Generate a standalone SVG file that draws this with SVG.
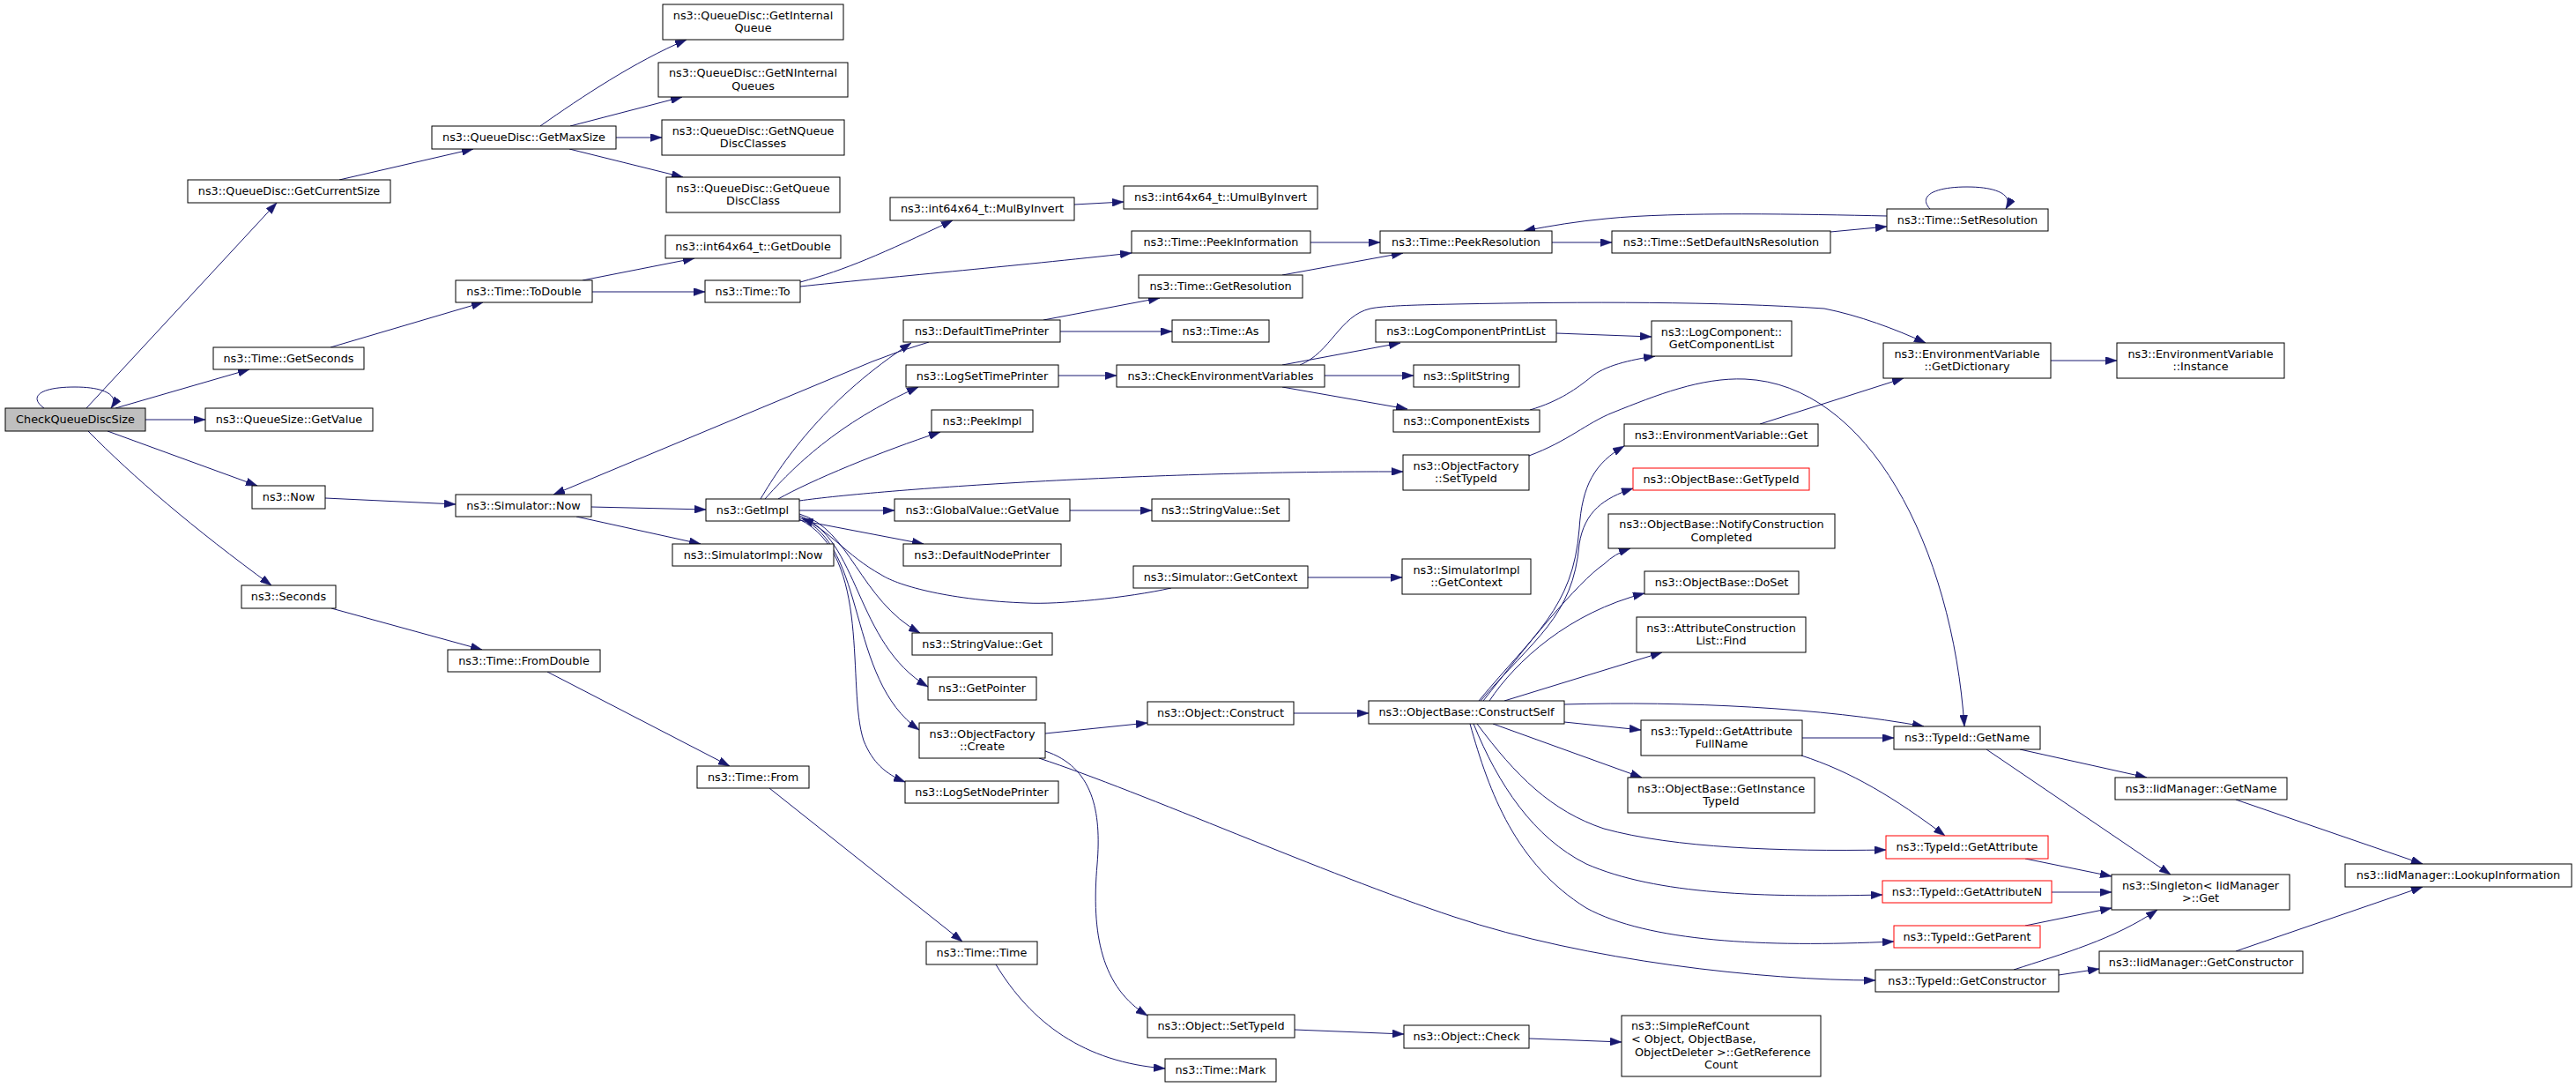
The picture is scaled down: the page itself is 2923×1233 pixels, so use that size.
<svg xmlns="http://www.w3.org/2000/svg" width="2923" height="1233" viewBox="0 0 2923 1233">
<style>
.n rect{fill:#ffffff;stroke:#000000;stroke-width:1}
.r rect{fill:#ffffff;stroke:#ff0000;stroke-width:1}
.root rect{fill:#bfbfbf;stroke:#000000;stroke-width:1}
text{font-family:"DejaVu Sans","Liberation Sans",sans-serif;font-size:12.8px;fill:#000;text-anchor:middle}
text.l{text-anchor:start}
#edges path{fill:none;stroke:#191970;stroke-width:1;marker-end:url(#a)}
</style>
<defs>
<marker id="a" viewBox="0 0 13 9" refX="13" refY="4.5" markerWidth="13" markerHeight="9" markerUnits="userSpaceOnUse" orient="auto"><path d="M0,0 L13,4.5 L0,9 z" fill="#191970" stroke="#191970" stroke-width="0.5"/></marker>
</defs>
<rect width="2923" height="1233" fill="#ffffff"/>
<g id="edges">
<path d="M50,463 C32,450 45,439 85,439 C120,439 136,449 126,463"/>
<path d="M98,463 L314,230"/>
<path d="M131,463 L283,419"/>
<path d="M165,476 L233,476"/>
<path d="M122,489 L292,551"/>
<path d="M100,489 C150,540 220,600 308,664"/>
<path d="M385,204 L537,169"/>
<path d="M613,143 C660,110 720,70 779,45"/>
<path d="M647,143 L774,110"/>
<path d="M699,156 L751,156"/>
<path d="M646,169 L775,201"/>
<path d="M375,394 L548,343"/>
<path d="M661,318 L788,293"/>
<path d="M672,331 L800,331"/>
<path d="M908,320 C960,306 1000,288 1081,250"/>
<path d="M908,325 C1000,315 1150,302 1284,287"/>
<path d="M1219,232 L1275,229"/>
<path d="M1487,275 L1566,275"/>
<path d="M1455,312 L1592,287"/>
<path d="M1761,275 L1829,275"/>
<path d="M2077,263 L2141,257"/>
<path d="M2141,245 C2050,243 1900,240 1823,248 C1790,251 1760,256 1729,262"/>
<path d="M2190,237 C2176,222 2195,212 2232,212 C2268,212 2285,222 2276,237"/>
<path d="M369,565 L517,572"/>
<path d="M671,575 L801,578"/>
<path d="M654,586 L795,617"/>
<path d="M376,690 L547,737"/>
<path d="M621,762 L828,869"/>
<path d="M873,894 L1092,1068"/>
<path d="M1130,1094 C1170,1160 1230,1205 1322,1212"/>
<path d="M1054,388 Q1020,398 990,410 L628,561"/>
<path d="M863,566 C890,520 940,450 1034,389"/>
<path d="M868,566 C900,530 950,480 1042,439"/>
<path d="M883,566 C920,545 1000,512 1067,490"/>
<path d="M907,568 C1000,555 1300,534 1592,535"/>
<path d="M907,579 L1015,579"/>
<path d="M1214,579 L1307,579"/>
<path d="M907,590 L1048,617"/>
<path d="M1329,667 C1280,678 1200,686 1165,684 C1080,681 1020,665 1000,652 C960,630 940,600 910,588"/>
<path d="M907,583 C965,600 975,680 1044,718"/>
<path d="M907,585 C975,610 970,730 1053,779"/>
<path d="M907,587 C985,620 960,770 1043,828"/>
<path d="M907,589 C990,630 960,780 980,840 C990,865 1005,878 1027,887"/>
<path d="M1184,363 L1316,338"/>
<path d="M1203,376 L1330,376"/>
<path d="M1201,426 L1267,426"/>
<path d="M1455,414 L1589,389"/>
<path d="M1475,414 C1510,400 1520,358 1555,350 C1570,347 1600,346 1650,345 C1800,342 1950,342 2070,350 C2110,358 2150,373 2185,389"/>
<path d="M1503,426 L1604,426"/>
<path d="M1455,439 L1597,464"/>
<path d="M1766,378 L1874,382"/>
<path d="M1736,465 C1770,455 1790,440 1805,428 C1820,415 1850,408 1878,404"/>
<path d="M2327,409 L2402,409"/>
<path d="M1997,481 L2160,429"/>
<path d="M1735,517 C1780,500 1800,480 1830,468 C1880,448 1930,428 1980,430 C2120,436 2215,620 2229,824"/>
<path d="M1484,655 L1591,655"/>
<path d="M1186,832 L1302,820"/>
<path d="M1186,852 C1240,870 1250,920 1245,980 C1238,1060 1250,1120 1302,1152"/>
<path d="M1179,860 C1300,900 1500,990 1650,1040 C1800,1090 2000,1112 2128,1112"/>
<path d="M1468,809 L1553,809"/>
<path d="M1678,795 C1740,720 1785,690 1792,600 C1795,550 1810,525 1843,506"/>
<path d="M1680,795 C1740,725 1785,700 1792,617 C1798,580 1820,565 1853,554"/>
<path d="M1683,795 C1730,735 1790,660 1820,640 Q1832,628 1850,622"/>
<path d="M1690,795 C1720,750 1780,695 1866,673"/>
<path d="M1707,795 L1886,740"/>
<path d="M1775,799 C1912,795 2069,803 2183,824"/>
<path d="M1775,819 L1862,828"/>
<path d="M1694,821 L1863,882"/>
<path d="M1676,821 C1720,880 1760,920 1820,940 C1900,962 2020,966 2140,964"/>
<path d="M1672,821 C1700,890 1740,950 1800,980 C1880,1015 2000,1018 2136,1015"/>
<path d="M1668,821 C1690,900 1720,980 1800,1030 C1870,1068 2000,1075 2149,1068"/>
<path d="M2045,837 L2149,837"/>
<path d="M2044,857 C2100,875 2150,905 2207,948"/>
<path d="M2292,850 L2436,882"/>
<path d="M2254,850 L2463,992"/>
<path d="M2537,907 L2749,980"/>
<path d="M2298,974 L2396,994"/>
<path d="M2328,1012 L2396,1012"/>
<path d="M2298,1050 L2396,1030"/>
<path d="M2285,1100 C2340,1082 2400,1065 2448,1032"/>
<path d="M2336,1106 L2382,1099"/>
<path d="M2537,1079 L2749,1006"/>
<path d="M1469,1168 L1593,1173"/>
<path d="M1735,1178 L1840,1182"/>
</g>
<g id="n1" class="root"><rect x="6" y="463" width="159" height="26"/><text x="85.5" y="480.3">CheckQueueDiscSize</text></g>
<g id="n2" class="n"><rect x="213" y="204" width="230" height="26"/><text x="328" y="221.3">ns3::QueueDisc::GetCurrentSize</text></g>
<g id="n3" class="n"><rect x="242" y="394" width="171" height="25"/><text x="327.5" y="410.8">ns3::Time::GetSeconds</text></g>
<g id="n4" class="n"><rect x="233" y="463" width="190" height="26"/><text x="328" y="480.3">ns3::QueueSize::GetValue</text></g>
<g id="n5" class="n"><rect x="286" y="551" width="83" height="26"/><text x="327.5" y="568.3">ns3::Now</text></g>
<g id="n6" class="n"><rect x="274" y="664" width="107" height="26"/><text x="327.5" y="681.3">ns3::Seconds</text></g>
<g id="n7" class="n"><rect x="490" y="143" width="209" height="26"/><text x="594.5" y="160.3">ns3::QueueDisc::GetMaxSize</text></g>
<g id="n8" class="n"><rect x="517" y="318" width="155" height="25"/><text x="594.5" y="334.8">ns3::Time::ToDouble</text></g>
<g id="n9" class="n"><rect x="517" y="561" width="154" height="25"/><text x="594" y="577.8">ns3::Simulator::Now</text></g>
<g id="n10" class="n"><rect x="508" y="737" width="173" height="25"/><text x="594.5" y="753.8">ns3::Time::FromDouble</text></g>
<g id="n11" class="n"><rect x="752" y="5" width="205" height="40"/><text x="854.5" y="21.7">ns3::QueueDisc::GetInternal</text><text x="854.5" y="36.4">Queue</text></g>
<g id="n12" class="n"><rect x="747" y="71" width="215" height="39"/><text x="854.5" y="87.2">ns3::QueueDisc::GetNInternal</text><text x="854.5" y="101.9">Queues</text></g>
<g id="n13" class="n"><rect x="751" y="136" width="207" height="40"/><text x="854.5" y="152.7">ns3::QueueDisc::GetNQueue</text><text x="854.5" y="167.4">DiscClasses</text></g>
<g id="n14" class="n"><rect x="756" y="201" width="197" height="40"/><text x="854.5" y="217.7">ns3::QueueDisc::GetQueue</text><text x="854.5" y="232.4">DiscClass</text></g>
<g id="n15" class="n"><rect x="755" y="267" width="199" height="26"/><text x="854.5" y="284.3">ns3::int64x64_t::GetDouble</text></g>
<g id="n16" class="n"><rect x="800" y="318" width="108" height="25"/><text x="854" y="334.8">ns3::Time::To</text></g>
<g id="n17" class="n"><rect x="801" y="566" width="106" height="25"/><text x="854" y="582.8">ns3::GetImpl</text></g>
<g id="n18" class="n"><rect x="763" y="617" width="183" height="25"/><text x="854.5" y="633.8">ns3::SimulatorImpl::Now</text></g>
<g id="n19" class="n"><rect x="791" y="869" width="127" height="25"/><text x="854.5" y="885.8">ns3::Time::From</text></g>
<g id="n20" class="n"><rect x="1010" y="224" width="209" height="26"/><text x="1114.5" y="241.3">ns3::int64x64_t::MulByInvert</text></g>
<g id="n21" class="n"><rect x="1275" y="211" width="220" height="26"/><text x="1385" y="228.3">ns3::int64x64_t::UmulByInvert</text></g>
<g id="n22" class="n"><rect x="1284" y="262" width="203" height="25"/><text x="1385.5" y="278.8">ns3::Time::PeekInformation</text></g>
<g id="n23" class="n"><rect x="1292" y="312" width="186" height="26"/><text x="1385" y="329.3">ns3::Time::GetResolution</text></g>
<g id="n24" class="n"><rect x="1025" y="363" width="178" height="25"/><text x="1114" y="379.8">ns3::DefaultTimePrinter</text></g>
<g id="n25" class="n"><rect x="1330" y="363" width="110" height="25"/><text x="1385" y="379.8">ns3::Time::As</text></g>
<g id="n26" class="n"><rect x="1028" y="414" width="173" height="25"/><text x="1114.5" y="430.8">ns3::LogSetTimePrinter</text></g>
<g id="n27" class="n"><rect x="1267" y="414" width="236" height="25"/><text x="1385" y="430.8">ns3::CheckEnvironmentVariables</text></g>
<g id="n28" class="n"><rect x="1057" y="465" width="115" height="25"/><text x="1114.5" y="481.8">ns3::PeekImpl</text></g>
<g id="n29" class="n"><rect x="1015" y="566" width="199" height="25"/><text x="1114.5" y="582.8">ns3::GlobalValue::GetValue</text></g>
<g id="n30" class="n"><rect x="1307" y="566" width="156" height="25"/><text x="1385" y="582.8">ns3::StringValue::Set</text></g>
<g id="n31" class="n"><rect x="1025" y="617" width="179" height="25"/><text x="1114.5" y="633.8">ns3::DefaultNodePrinter</text></g>
<g id="n32" class="n"><rect x="1286" y="642" width="198" height="25"/><text x="1385" y="658.8">ns3::Simulator::GetContext</text></g>
<g id="n33" class="n"><rect x="1035" y="718" width="159" height="25"/><text x="1114.5" y="734.8">ns3::StringValue::Get</text></g>
<g id="n34" class="n"><rect x="1053" y="768" width="123" height="26"/><text x="1114.5" y="785.3">ns3::GetPointer</text></g>
<g id="n35" class="n"><rect x="1043" y="820" width="143" height="40"/><text x="1114.5" y="836.7">ns3::ObjectFactory</text><text x="1114.5" y="851.4">::Create</text></g>
<g id="n36" class="n"><rect x="1302" y="796" width="166" height="26"/><text x="1385" y="813.3">ns3::Object::Construct</text></g>
<g id="n37" class="n"><rect x="1027" y="886" width="174" height="25"/><text x="1114" y="902.8">ns3::LogSetNodePrinter</text></g>
<g id="n38" class="n"><rect x="1051" y="1068" width="126" height="26"/><text x="1114" y="1085.3">ns3::Time::Time</text></g>
<g id="n39" class="n"><rect x="1302" y="1151" width="167" height="26"/><text x="1385.5" y="1168.3">ns3::Object::SetTypeId</text></g>
<g id="n40" class="n"><rect x="1322" y="1201" width="126" height="26"/><text x="1385" y="1218.3">ns3::Time::Mark</text></g>
<g id="n41" class="n"><rect x="1593" y="1163" width="142" height="26"/><text x="1664" y="1180.3">ns3::Object::Check</text></g>
<g id="n42" class="n"><rect x="1840" y="1152" width="226" height="69"/><text class="l" x="1851" y="1168">ns3::SimpleRefCount</text><text class="l" x="1851" y="1183">&lt; Object, ObjectBase,</text><text class="l" x="1855" y="1197.5">ObjectDeleter &gt;::GetReference</text><text x="1953" y="1212">Count</text></g>
<g id="n43" class="n"><rect x="1566" y="262" width="195" height="25"/><text x="1663.5" y="278.8">ns3::Time::PeekResolution</text></g>
<g id="n44" class="n"><rect x="1829" y="262" width="248" height="25"/><text x="1953" y="278.8">ns3::Time::SetDefaultNsResolution</text></g>
<g id="n45" class="n"><rect x="2141" y="237" width="183" height="25"/><text x="2232.5" y="253.8">ns3::Time::SetResolution</text></g>
<g id="n46" class="n"><rect x="1561" y="363" width="205" height="25"/><text x="1663.5" y="379.8">ns3::LogComponentPrintList</text></g>
<g id="n47" class="n"><rect x="1874" y="364" width="159" height="40"/><text x="1953.5" y="380.7">ns3::LogComponent::</text><text x="1953.5" y="395.4">GetComponentList</text></g>
<g id="n48" class="n"><rect x="1604" y="414" width="120" height="25"/><text x="1664" y="430.8">ns3::SplitString</text></g>
<g id="n49" class="n"><rect x="1581" y="465" width="166" height="25"/><text x="1664" y="481.8">ns3::ComponentExists</text></g>
<g id="n50" class="n"><rect x="2137" y="389" width="190" height="40"/><text x="2232" y="405.7">ns3::EnvironmentVariable</text><text x="2232" y="420.4">::GetDictionary</text></g>
<g id="n51" class="n"><rect x="2402" y="389" width="190" height="40"/><text x="2497" y="405.7">ns3::EnvironmentVariable</text><text x="2497" y="420.4">::Instance</text></g>
<g id="n52" class="n"><rect x="1592" y="516" width="143" height="40"/><text x="1663.5" y="532.7">ns3::ObjectFactory</text><text x="1663.5" y="547.4">::SetTypeId</text></g>
<g id="n53" class="n"><rect x="1843" y="481" width="220" height="25"/><text x="1953" y="497.8">ns3::EnvironmentVariable::Get</text></g>
<g id="n54" class="r"><rect x="1853" y="531" width="200" height="25"/><text x="1953" y="547.8">ns3::ObjectBase::GetTypeId</text></g>
<g id="n55" class="n"><rect x="1825" y="583" width="257" height="39"/><text x="1953.5" y="599.2">ns3::ObjectBase::NotifyConstruction</text><text x="1953.5" y="613.9">Completed</text></g>
<g id="n56" class="n"><rect x="1591" y="634" width="146" height="40"/><text x="1664" y="650.7">ns3::SimulatorImpl</text><text x="1664" y="665.4">::GetContext</text></g>
<g id="n57" class="n"><rect x="1866" y="648" width="175" height="26"/><text x="1953.5" y="665.3">ns3::ObjectBase::DoSet</text></g>
<g id="n58" class="n"><rect x="1857" y="700" width="192" height="40"/><text x="1953" y="716.7">ns3::AttributeConstruction</text><text x="1953" y="731.4">List::Find</text></g>
<g id="n59" class="n"><rect x="1553" y="795" width="222" height="26"/><text x="1664" y="812.3">ns3::ObjectBase::ConstructSelf</text></g>
<g id="n60" class="n"><rect x="1862" y="817" width="183" height="40"/><text x="1953.5" y="833.7">ns3::TypeId::GetAttribute</text><text x="1953.5" y="848.4">FullName</text></g>
<g id="n61" class="n"><rect x="1847" y="882" width="212" height="40"/><text x="1953" y="898.7">ns3::ObjectBase::GetInstance</text><text x="1953" y="913.4">TypeId</text></g>
<g id="n62" class="n"><rect x="2149" y="824" width="166" height="26"/><text x="2232" y="841.3">ns3::TypeId::GetName</text></g>
<g id="n63" class="n"><rect x="2400" y="882" width="195" height="25"/><text x="2497.5" y="898.8">ns3::IidManager::GetName</text></g>
<g id="n64" class="r"><rect x="2140" y="948" width="184" height="26"/><text x="2232" y="965.3">ns3::TypeId::GetAttribute</text></g>
<g id="n65" class="r"><rect x="2136" y="999" width="192" height="25"/><text x="2232" y="1015.8">ns3::TypeId::GetAttributeN</text></g>
<g id="n66" class="r"><rect x="2149" y="1050" width="166" height="25"/><text x="2232" y="1066.8">ns3::TypeId::GetParent</text></g>
<g id="n67" class="n"><rect x="2396" y="992" width="202" height="40"/><text x="2497" y="1008.7">ns3::Singleton&lt; IidManager</text><text x="2497" y="1023.4">&gt;::Get</text></g>
<g id="n68" class="n"><rect x="2661" y="980" width="257" height="26"/><text x="2789.5" y="997.3">ns3::IidManager::LookupInformation</text></g>
<g id="n69" class="n"><rect x="2128" y="1100" width="208" height="25"/><text x="2232" y="1116.8">ns3::TypeId::GetConstructor</text></g>
<g id="n70" class="n"><rect x="2382" y="1079" width="231" height="25"/><text x="2497.5" y="1095.8">ns3::IidManager::GetConstructor</text></g>
</svg>
